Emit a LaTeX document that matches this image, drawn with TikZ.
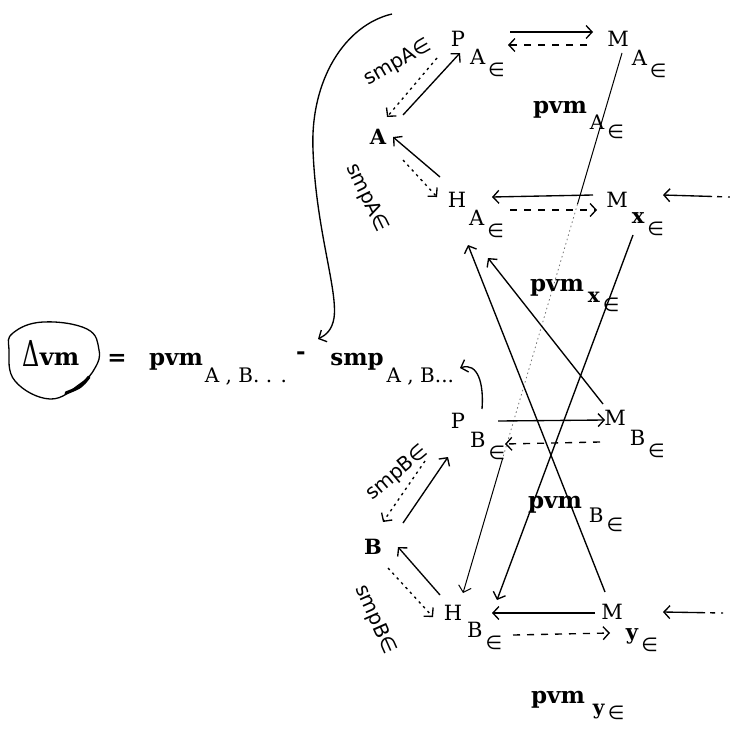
\documentclass[tikz,border=0pt]{standalone}
\usepackage{fontspec}
\setmainfont{DejaVu Serif}
\newfontfamily\hand{DejaVu Sans}
\usetikzlibrary{arrows.meta,calc}
\newcommand\elt{{\hand\fontsize{19}{19}\selectfont ∈}}
% main letter with subscript and small element sign
\newcommand\sublab[4]{#1\rlap{\smash{\hspace{#3}\raisebox{-#4}{#2\hspace{3pt}\raisebox{-12pt}{\elt}}}}}
\newcommand\pvmlab[4]{\raisebox{0pt}[\height][0pt]{pvm}\rlap{\smash{\hspace{#2}\raisebox{-#3}{\mdseries\fontsize{20}{20}\selectfont #1\hspace{3pt}\raisebox{-#4}{\elt}}}}}
\begin{document}
\begin{tikzpicture}[x=1pt,y=-1pt,
  lab/.style={inner sep=0pt,font=\fontsize{21}{21}\selectfont},
  labb/.style={inner sep=0pt,font=\fontsize{21}{21}\selectfont\bfseries},
  big/.style={inner sep=0pt,font=\fontsize{23}{23}\selectfont\bfseries},
  hw/.style={inner sep=0pt,font=\hand\fontsize{20}{20}\selectfont},
  ln/.style={line width=1.35pt},
  tip/.style={-{Straight Barb[length=6pt,width=13pt]}},
  dsh/.style={dash pattern=on 7pt off 7pt},
  dts/.style={dash pattern=on 2.5pt off 4pt},
  lng/.style={dash pattern=on 2pt off 6pt on 5pt off 5pt on 60pt off 0pt},
]
\useasboundingbox (0,0) rectangle (730,728);

% ---------- nodes ----------
\node[lab] (PA) at (458,39) {\sublab{P}{A}{5pt}{18pt}};
\node[lab] (MA) at (618,39) {\sublab{M}{A}{3pt}{19pt}};
\node[labb] (A) at (378,137) {A};
\node[lab] (HA) at (457,200) {\sublab{H}{A}{3pt}{18pt}};
\node[lab] (Mx) at (617,200) {\sublab{M}{\textbf{x}}{4pt}{16pt}};
\node[lab] (PB) at (458,421) {\sublab{P}{B}{5pt}{19pt}};
\node[lab] (MB) at (615,418) {\sublab{M}{B}{4pt}{20pt}};
\node[labb] (B) at (373,547) {B};
\node[lab] (HB) at (453,613) {\sublab{H}{B}{5pt}{17pt}};
\node[lab] (My) at (612,612) {\sublab{M}{\textbf{y}}{3pt}{20pt}};

\node[big] (pvmA) at (560,107) {\pvmlab{A}{3pt}{16pt}{9pt}};
\node[big] (pvmx) at (557,285) {\pvmlab{\textbf{x}}{4pt}{11pt}{9pt}};
\node[big] (pvmB) at (555,502) {\pvmlab{B}{7pt}{14pt}{9pt}};
\node[big] (pvmy) at (558,697) {\pvmlab{\textbf{y}}{8pt}{11pt}{5pt}};

\node[hw,rotate=30] (lA1) at (398,63) {smpA∈};
\node[hw,rotate=-64] (lA2) at (367,198) {smpA∈};
\node[hw,rotate=40] (lB1) at (397,473) {smpB∈};
\node[hw,rotate=-66] (lB2) at (375,620) {smpB∈};

% ---------- equation ----------
\node[anchor=base,inner sep=0pt] (dvm) at (51,365) {\raisebox{-1pt}{\scalebox{0.7}[1.05]{\fontsize{34}{34}\selectfont Δ}}\fontsize{24}{24}\selectfont\bfseries vm};
\node[anchor=base,big] (eq) at (117,365) {=};
\node[anchor=base,big] (pvmAB) at (176,365) {pvm\rlap{\raisebox{-17pt}{\mdseries\fontsize{20}{20}\selectfont\hspace{2pt}A , B. . .}}};
\node[anchor=base,big] (minus) at (301,359) {-};
\node[anchor=base,big] (smp) at (357,365) {smp\rlap{\raisebox{-17pt}{\mdseries\fontsize{20}{20}\selectfont\hspace{3pt}A , B...}}};
\draw[line width=1.3pt] plot[smooth cycle, tension=0.7] coordinates {(13,333) (43,322) (87,329) (99,350) (95,368) (80,384) (50,399) (15,381) (9,350)};
\draw[line width=3.2pt,line cap=round] (89,377) .. controls (81,387) .. (66,393);

% ---------- A triangle ----------
\draw[ln,tip] ([shift={(52,-7)}]PA.center) -- ([shift={(-25,-7)}]MA.center);
\draw[ln,tip,dsh] ([shift={(-31,6)}]MA.center) -- ([shift={(50,6)}]PA.center);
\draw[ln,tip] ([shift={(25,-22)}]A.center) -- ([shift={(2,14)}]PA.center);
\draw[ln,tip,dts] ([shift={(-21,19)}]PA.center) -- ([shift={(9,-20)}]A.center);
\draw[ln,tip] ([shift={(-17,-23)}]HA.center) -- ([shift={(15,0)}]A.center);
\draw[ln,tip,dts] ([shift={(25,23)}]A.center) -- ([shift={(-20,-3)}]HA.center);
\draw[ln,tip] ([shift={(-24,-5)}]Mx.center) -- ([shift={(35,-3)}]HA.center);
\draw[ln,tip,dsh] ([shift={(53,10)}]HA.center) -- ([shift={(-20,10)}]Mx.center);
\coordinate (xin) at (730,197);
\draw[ln,tip,lng] (xin) -- ([shift={(46,-5)}]Mx.center);

% ---------- long crossing lines ----------
\path ([shift={(4,14)}]MA.center) coordinate (s1) -- coordinate[pos=0.28] (s2) coordinate[pos=0.75] (s3) ([shift={(10,-20)}]HB.center) coordinate (s4);
\draw[line width=1pt] (s1) -- (s2);
\draw[line width=0.8pt,dash pattern=on 1.5pt off 3pt,black!55] (s2) -- (s3);
\draw[line width=1pt,tip] (s3) -- (s4);
\draw[ln,tip] ([shift={(-7,-20)}]My.center) -- ([shift={(11,45)}]HA.center);
\draw[ln,tip] ([shift={(-12,-14)}]MB.center) -- ([shift={(31,58)}]HA.center);
\draw[ln,tip] ([shift={(16,35)}]Mx.center) -- ([shift={(44,-13)}]HB.center);

% ---------- B triangle ----------
\draw[ln,tip] ([shift={(40,0)}]PB.center) -- ([shift={(-10,2)}]MB.center);
\draw[ln,tip,dsh] ([shift={(-15,24)}]MB.center) -- ([shift={(47,23)}]PB.center);
\draw[ln,tip] ([shift={(30,-24)}]B.center) -- ([shift={(-10,36)}]PB.center);
\draw[ln,tip,dts] ([shift={(-33,40)}]PB.center) -- ([shift={(10,-25)}]B.center);
\draw[ln,tip] ([shift={(-13,-18)}]HB.center) -- ([shift={(25,0)}]B.center);
\draw[ln,tip,dts] ([shift={(15,21)}]B.center) -- ([shift={(-20,4)}]HB.center);
\draw[ln,tip] ([shift={(-17,1)}]My.center) -- ([shift={(39,0)}]HB.center);
\draw[ln,tip,dsh] ([shift={(60,22)}]HB.center) -- ([shift={(-2,21)}]My.center);
\coordinate (yin) at (723,613);
\draw[ln,tip,lng] (yin) -- ([shift={(51,0)}]My.center);

% ---------- curved arrows to the equation ----------
\draw[ln,tip] ([shift={(24,-12)}]PB.center) .. controls +(2,-25) and +(18,-6) .. ([shift={(103,3)}]smp.base);
\coordinate (ctop) at (392,14);
\draw[ln,tip] (ctop) .. controls (345,25) and (310,80) .. (313,150) .. controls (316,230) and (338,290) .. (334,318) .. controls (332,330) and (326,335) .. ([shift={(-39,-26)}]smp.base);
\end{tikzpicture}
\end{document}
